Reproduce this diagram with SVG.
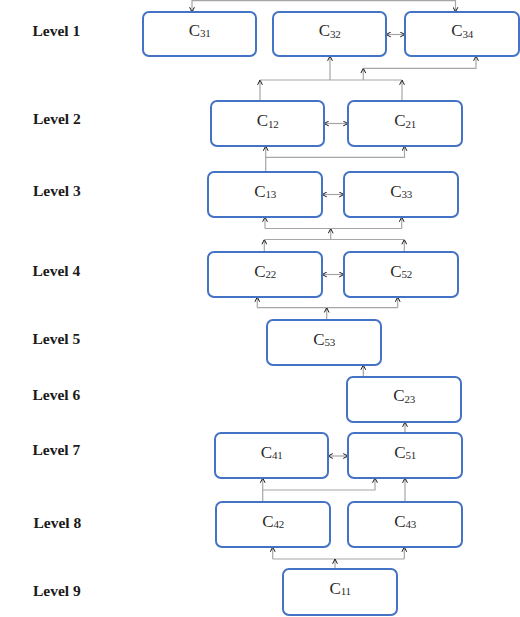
<svg xmlns="http://www.w3.org/2000/svg" width="520" height="617" viewBox="0 0 520 617">
<style>
.lvl{font-family:"Liberation Serif","Times New Roman",serif;font-weight:bold;font-size:15.5px;fill:#1a1a1a}
.box{fill:#fff;stroke:#4472c4;stroke-width:2}
.lbl{font-family:"Liberation Serif","Times New Roman",serif;font-size:17px;fill:#2a2a2a;text-anchor:middle}
.sub{font-size:11px;letter-spacing:-0.4px}
.c{fill:none;stroke:#a6a6a6;stroke-width:1.2}
.a{marker-end:url(#ah)}
.d{marker-start:url(#ah);marker-end:url(#ah)}
</style>
<defs>
<marker id="ah" viewBox="0 0 10 10" refX="10" refY="5" markerWidth="6" markerHeight="6" markerUnits="userSpaceOnUse" orient="auto-start-reverse">
<path d="M2,1 L10,5 L2,9" fill="none" stroke="#111" stroke-width="1.6"/>
</marker>
</defs>
<rect width="520" height="617" fill="#fff"/>
<g id="levels">
<text class="lvl" x="32.5" y="35.5">Level 1</text>
<text class="lvl" x="33" y="124">Level 2</text>
<text class="lvl" x="33" y="195.5">Level 3</text>
<text class="lvl" x="32.5" y="275.5">Level 4</text>
<text class="lvl" x="32.5" y="344">Level 5</text>
<text class="lvl" x="32.5" y="400">Level 6</text>
<text class="lvl" x="32.5" y="455">Level 7</text>
<text class="lvl" x="33.5" y="528">Level 8</text>
<text class="lvl" x="33" y="595.5">Level 9</text>
</g>
<g id="connectors">
<path class="c d" d="M192,12 V0.6 H455.5 V12"/>
<path class="c d" d="M386,34.5 H405"/>
<path class="c a" d="M260,101 V80"/>
<path class="c a" d="M402,101 V80"/>
<path class="c" d="M260,80 H402"/>
<path class="c a" d="M330,80 V56"/>
<path class="c a" d="M363.3,80 V68.3"/>
<path class="c a" d="M363.3,68.3 H476 V56"/>
<path class="c d" d="M324,123.5 H348"/>
<path class="c a" d="M265.7,172 V146"/>
<path class="c a" d="M265.7,157.3 H404.5 V146"/>
<path class="c d" d="M322,194.5 H344"/>
<path class="c a" d="M265,228.5 V217"/>
<path class="c a" d="M401.7,228.5 V217"/>
<path class="c" d="M265,228.5 H401.7"/>
<path class="c a" d="M330.7,239.5 V228.5"/>
<path class="c" d="M264.3,239.5 H404.3"/>
<path class="c a" d="M264.3,252 V239.5"/>
<path class="c a" d="M404.3,252 V239.5"/>
<path class="c d" d="M322,274.5 H344"/>
<path class="c a" d="M257.3,307.7 V297"/>
<path class="c a" d="M397.7,307.7 V297"/>
<path class="c" d="M257.3,307.7 H397.7"/>
<path class="c a" d="M326.7,320 V307.7"/>
<path class="c a" d="M363.3,377 V365"/>
<path class="c a" d="M405,433 V422"/>
<path class="c d" d="M328,456 H348"/>
<path class="c a" d="M262.7,502 V478"/>
<path class="c a" d="M262.7,490 H375 V478"/>
<path class="c a" d="M405,502 V478"/>
<path class="c a" d="M272.7,559 V547"/>
<path class="c a" d="M404.3,559 V547"/>
<path class="c" d="M272.7,559 H404.3"/>
<path class="c a" d="M335,569 V559"/>
</g>
<g id="C31"><rect class="box" x="143" y="12" width="113" height="44" rx="6"/><text class="lbl" x="199.5" y="35.5">C<tspan class="sub" dy="1.5">31</tspan></text></g>
<g id="C32"><rect class="box" x="273" y="12" width="113" height="44" rx="6"/><text class="lbl" x="329.5" y="36">C<tspan class="sub" dy="1.5">32</tspan></text></g>
<g id="C34"><rect class="box" x="405" y="12" width="114" height="44" rx="6"/><text class="lbl" x="462" y="36">C<tspan class="sub" dy="1.5">34</tspan></text></g>
<g id="C12"><rect class="box" x="211" y="101" width="113" height="45" rx="6"/><text class="lbl" x="267.5" y="126">C<tspan class="sub" dy="1.5">12</tspan></text></g>
<g id="C21"><rect class="box" x="348" y="101" width="114" height="45" rx="6"/><text class="lbl" x="405" y="126">C<tspan class="sub" dy="1.5">21</tspan></text></g>
<g id="C13"><rect class="box" x="208" y="172" width="114" height="45" rx="6"/><text class="lbl" x="265" y="196.5">C<tspan class="sub" dy="1.5">13</tspan></text></g>
<g id="C33"><rect class="box" x="344" y="172" width="114" height="45" rx="6"/><text class="lbl" x="401" y="196.5">C<tspan class="sub" dy="1.5">33</tspan></text></g>
<g id="C22"><rect class="box" x="208" y="252" width="114" height="45" rx="6"/><text class="lbl" x="265" y="276.5">C<tspan class="sub" dy="1.5">22</tspan></text></g>
<g id="C52"><rect class="box" x="344" y="252" width="114" height="45" rx="6"/><text class="lbl" x="401" y="276.5">C<tspan class="sub" dy="1.5">52</tspan></text></g>
<g id="C53"><rect class="box" x="267" y="320" width="114" height="45" rx="6"/><text class="lbl" x="324" y="344.5">C<tspan class="sub" dy="1.5">53</tspan></text></g>
<g id="C23"><rect class="box" x="347" y="377" width="114" height="45" rx="6"/><text class="lbl" x="404" y="401">C<tspan class="sub" dy="1.5">23</tspan></text></g>
<g id="C41"><rect class="box" x="215" y="433" width="113" height="45" rx="6"/><text class="lbl" x="271.5" y="457.5">C<tspan class="sub" dy="1.5">41</tspan></text></g>
<g id="C51"><rect class="box" x="348" y="433" width="114" height="45" rx="6"/><text class="lbl" x="405" y="457.5">C<tspan class="sub" dy="1.5">51</tspan></text></g>
<g id="C42"><rect class="box" x="216" y="502" width="114" height="45" rx="6"/><text class="lbl" x="273" y="526.5">C<tspan class="sub" dy="1.5">42</tspan></text></g>
<g id="C43"><rect class="box" x="348" y="502" width="114" height="45" rx="6"/><text class="lbl" x="405" y="526.5">C<tspan class="sub" dy="1.5">43</tspan></text></g>
<g id="C11"><rect class="box" x="283" y="569" width="114" height="46" rx="6"/><text class="lbl" x="340" y="593.5">C<tspan class="sub" dy="1.5">11</tspan></text></g>
</svg>
